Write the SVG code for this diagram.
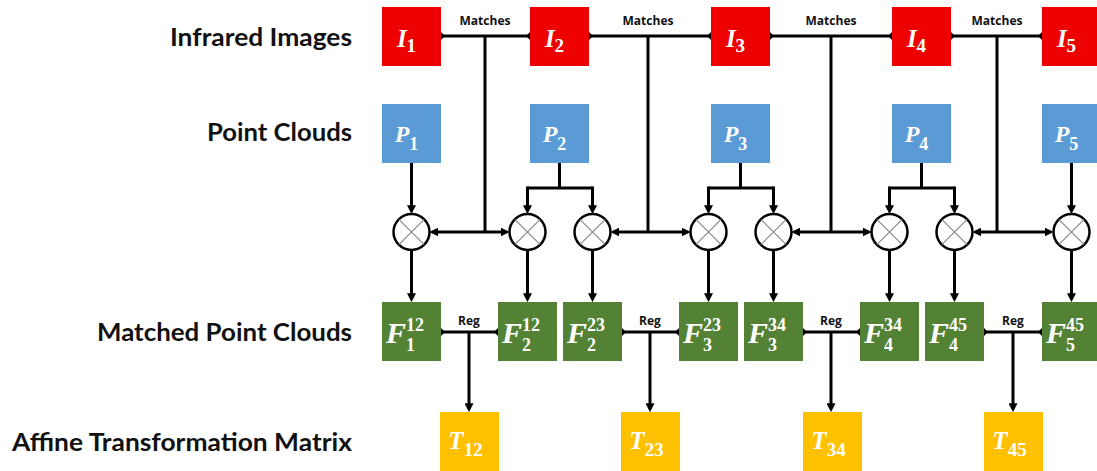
<svg xmlns="http://www.w3.org/2000/svg" width="1097" height="471" viewBox="0 0 1097 471">
<style>
.bg{fill:#ffffff}
.red{fill:#ee0000}
.blue{fill:#5b9bd5}
.green{fill:#548235}
.yel{fill:#ffc000}
.row{font-family:Lato,"Open Sans",sans-serif;font-weight:bold;font-size:24px;fill:#111;text-anchor:end}
.sm{font-family:"Open Sans","Liberation Sans",sans-serif;font-weight:bold;font-size:12px;fill:#111;text-anchor:middle}
.m{font-family:"Liberation Serif","DejaVu Serif",serif;font-weight:bold;font-style:italic;fill:#fff}
.d{font-family:"Liberation Serif","DejaVu Serif",serif;font-weight:bold;font-style:normal;fill:#fff}
.ln{fill:none;stroke:#000;stroke-width:3}
.circ{fill:#fff;stroke:#000;stroke-width:2.5}
.x{stroke:#8a8a8a;stroke-width:1.2}
</style>
<defs>
<marker id="arr" viewBox="0 0 10 10" refX="6.5" refY="5" markerWidth="9" markerHeight="9" markerUnits="userSpaceOnUse" orient="auto-start-reverse">
<path d="M0,0 L10,5 L0,10 z" fill="#000"/>
</marker>
<marker id="dia" viewBox="0 0 10 10" refX="5" refY="5" markerWidth="8" markerHeight="8" markerUnits="userSpaceOnUse" orient="auto">
<path d="M5,0 L10,5 L5,10 L0,5 z" fill="#000"/>
</marker>
</defs>
<rect class="bg" x="0" y="0" width="1097" height="471"/>

<g id="row-labels">
<text class="row" x="352" y="46" textLength="182" lengthAdjust="spacingAndGlyphs">Infrared Images</text>
<text class="row" x="352" y="141" textLength="145" lengthAdjust="spacingAndGlyphs">Point Clouds</text>
<text class="row" x="352" y="341" textLength="255" lengthAdjust="spacingAndGlyphs">Matched Point Clouds</text>
<text class="row" x="352" y="451" textLength="340" lengthAdjust="spacingAndGlyphs">Affine Transformation Matrix</text>
</g>

<g id="connectors">
<path class="ln" d="M441,36 H530" marker-start="url(#dia)" marker-end="url(#dia)"/>
<path class="ln" d="M589,36 H711" marker-start="url(#dia)" marker-end="url(#dia)"/>
<path class="ln" d="M770,36 H892" marker-start="url(#dia)" marker-end="url(#dia)"/>
<path class="ln" d="M951,36 H1042" marker-start="url(#dia)" marker-end="url(#dia)"/>
<path class="ln" d="M485,36 V232"/>
<path class="ln" d="M648,36 V232"/>
<path class="ln" d="M831,36 V232"/>
<path class="ln" d="M997,36 V232"/>
<path class="ln" d="M432.5,232 H506.5" marker-start="url(#arr)" marker-end="url(#arr)"/>
<path class="ln" d="M613.5,232 H687.5" marker-start="url(#arr)" marker-end="url(#arr)"/>
<path class="ln" d="M794.5,232 H868.5" marker-start="url(#arr)" marker-end="url(#arr)"/>
<path class="ln" d="M975.5,232 H1050.5" marker-start="url(#arr)" marker-end="url(#arr)"/>
<path class="ln" d="M411.5,163 V211" marker-end="url(#arr)"/>
<path class="ln" d="M559.5,163 V188 M527.5,188 H592.5"/>
<path class="ln" d="M527.5,186.5 V211" marker-end="url(#arr)"/>
<path class="ln" d="M592.5,186.5 V211" marker-end="url(#arr)"/>
<path class="ln" d="M740.5,163 V188 M708.5,188 H773.5"/>
<path class="ln" d="M708.5,186.5 V211" marker-end="url(#arr)"/>
<path class="ln" d="M773.5,186.5 V211" marker-end="url(#arr)"/>
<path class="ln" d="M921.5,163 V188 M889.5,188 H954.5"/>
<path class="ln" d="M889.5,186.5 V211" marker-end="url(#arr)"/>
<path class="ln" d="M954.5,186.5 V211" marker-end="url(#arr)"/>
<path class="ln" d="M1071.5,163 V211" marker-end="url(#arr)"/>
<path class="ln" d="M411.5,250 V299" marker-end="url(#arr)"/>
<path class="ln" d="M527.5,250 V299" marker-end="url(#arr)"/>
<path class="ln" d="M592.5,250 V299" marker-end="url(#arr)"/>
<path class="ln" d="M708.5,250 V299" marker-end="url(#arr)"/>
<path class="ln" d="M773.5,250 V299" marker-end="url(#arr)"/>
<path class="ln" d="M889.5,250 V299" marker-end="url(#arr)"/>
<path class="ln" d="M954.5,250 V299" marker-end="url(#arr)"/>
<path class="ln" d="M1071.5,250 V299" marker-end="url(#arr)"/>
<path class="ln" d="M441,332 H498" marker-start="url(#dia)" marker-end="url(#dia)"/>
<path class="ln" d="M622,332 H679" marker-start="url(#dia)" marker-end="url(#dia)"/>
<path class="ln" d="M803,332 H860" marker-start="url(#dia)" marker-end="url(#dia)"/>
<path class="ln" d="M984,332 H1042" marker-start="url(#dia)" marker-end="url(#dia)"/>
<path class="ln" d="M469,332 V409" marker-end="url(#arr)"/>
<path class="ln" d="M650,332 V409" marker-end="url(#arr)"/>
<path class="ln" d="M831,332 V409" marker-end="url(#arr)"/>
<path class="ln" d="M1013,332 V409" marker-end="url(#arr)"/>
<text class="sm" x="485" y="25">Matches</text>
<text class="sm" x="648" y="25">Matches</text>
<text class="sm" x="831" y="25">Matches</text>
<text class="sm" x="997" y="25">Matches</text>
<text class="sm" x="469" y="325">Reg</text>
<text class="sm" x="650" y="325">Reg</text>
<text class="sm" x="831" y="325">Reg</text>
<text class="sm" x="1013" y="325">Reg</text>
</g>

<g id="I1"><rect class="red" x="382" y="7" width="59" height="59"/><text class="m" x="406.5" y="47" font-size="25" text-anchor="middle">I<tspan class="d" font-size="19" dy="5">1</tspan></text></g>
<g id="I2"><rect class="red" x="530" y="7" width="59" height="59"/><text class="m" x="554.5" y="47" font-size="25" text-anchor="middle">I<tspan class="d" font-size="19" dy="5">2</tspan></text></g>
<g id="I3"><rect class="red" x="711" y="7" width="59" height="59"/><text class="m" x="735.5" y="47" font-size="25" text-anchor="middle">I<tspan class="d" font-size="19" dy="5">3</tspan></text></g>
<g id="I4"><rect class="red" x="892" y="7" width="59" height="59"/><text class="m" x="916.5" y="47" font-size="25" text-anchor="middle">I<tspan class="d" font-size="19" dy="5">4</tspan></text></g>
<g id="I5"><rect class="red" x="1042" y="7" width="59" height="59"/><text class="m" x="1066.5" y="47" font-size="25" text-anchor="middle">I<tspan class="d" font-size="19" dy="5">5</tspan></text></g>

<g id="P1"><rect class="blue" x="382" y="104" width="59" height="59"/><text class="m" x="406.5" y="142" font-size="24" text-anchor="middle">P<tspan class="d" font-size="18" dy="7.5">1</tspan></text></g>
<g id="P2"><rect class="blue" x="530" y="104" width="59" height="59"/><text class="m" x="554.5" y="142" font-size="24" text-anchor="middle">P<tspan class="d" font-size="18" dy="7.5">2</tspan></text></g>
<g id="P3"><rect class="blue" x="711" y="104" width="59" height="59"/><text class="m" x="735.5" y="142" font-size="24" text-anchor="middle">P<tspan class="d" font-size="18" dy="7.5">3</tspan></text></g>
<g id="P4"><rect class="blue" x="892" y="104" width="59" height="59"/><text class="m" x="916.5" y="142" font-size="24" text-anchor="middle">P<tspan class="d" font-size="18" dy="7.5">4</tspan></text></g>
<g id="P5"><rect class="blue" x="1042" y="104" width="59" height="59"/><text class="m" x="1066.5" y="142" font-size="24" text-anchor="middle">P<tspan class="d" font-size="18" dy="7.5">5</tspan></text></g>

<g id="X1"><circle class="circ" cx="411.5" cy="232" r="18"/><path class="x" d="M398.8,219.3 L424.2,244.7 M424.2,219.3 L398.8,244.7"/></g>
<g id="X2"><circle class="circ" cx="527.5" cy="232" r="18"/><path class="x" d="M514.8,219.3 L540.2,244.7 M540.2,219.3 L514.8,244.7"/></g>
<g id="X3"><circle class="circ" cx="592.5" cy="232" r="18"/><path class="x" d="M579.8,219.3 L605.2,244.7 M605.2,219.3 L579.8,244.7"/></g>
<g id="X4"><circle class="circ" cx="708.5" cy="232" r="18"/><path class="x" d="M695.8,219.3 L721.2,244.7 M721.2,219.3 L695.8,244.7"/></g>
<g id="X5"><circle class="circ" cx="773.5" cy="232" r="18"/><path class="x" d="M760.8,219.3 L786.2,244.7 M786.2,219.3 L760.8,244.7"/></g>
<g id="X6"><circle class="circ" cx="889.5" cy="232" r="18"/><path class="x" d="M876.8,219.3 L902.2,244.7 M902.2,219.3 L876.8,244.7"/></g>
<g id="X7"><circle class="circ" cx="954.5" cy="232" r="18"/><path class="x" d="M941.8,219.3 L967.2,244.7 M967.2,219.3 L941.8,244.7"/></g>
<g id="X8"><circle class="circ" cx="1071.5" cy="232" r="18"/><path class="x" d="M1058.8,219.3 L1084.2,244.7 M1084.2,219.3 L1058.8,244.7"/></g>

<g id="F1-12"><rect class="green" x="382" y="302" width="59" height="59"/><text class="m" x="386" y="343" font-size="30">F</text><text class="d" x="406" y="330.5" font-size="18">12</text><text class="d" x="406" y="351" font-size="18">1</text></g>
<g id="F2-12"><rect class="green" x="498" y="302" width="59" height="59"/><text class="m" x="502" y="343" font-size="30">F</text><text class="d" x="522" y="330.5" font-size="18">12</text><text class="d" x="522" y="351" font-size="18">2</text></g>
<g id="F2-23"><rect class="green" x="563" y="302" width="59" height="59"/><text class="m" x="567" y="343" font-size="30">F</text><text class="d" x="587" y="330.5" font-size="18">23</text><text class="d" x="587" y="351" font-size="18">2</text></g>
<g id="F3-23"><rect class="green" x="679" y="302" width="59" height="59"/><text class="m" x="683" y="343" font-size="30">F</text><text class="d" x="703" y="330.5" font-size="18">23</text><text class="d" x="703" y="351" font-size="18">3</text></g>
<g id="F3-34"><rect class="green" x="744" y="302" width="59" height="59"/><text class="m" x="748" y="343" font-size="30">F</text><text class="d" x="768" y="330.5" font-size="18">34</text><text class="d" x="768" y="351" font-size="18">3</text></g>
<g id="F4-34"><rect class="green" x="860" y="302" width="59" height="59"/><text class="m" x="864" y="343" font-size="30">F</text><text class="d" x="884" y="330.5" font-size="18">34</text><text class="d" x="884" y="351" font-size="18">4</text></g>
<g id="F4-45"><rect class="green" x="925" y="302" width="59" height="59"/><text class="m" x="929" y="343" font-size="30">F</text><text class="d" x="949" y="330.5" font-size="18">45</text><text class="d" x="949" y="351" font-size="18">4</text></g>
<g id="F5-45"><rect class="green" x="1042" y="302" width="59" height="59"/><text class="m" x="1046" y="343" font-size="30">F</text><text class="d" x="1066" y="330.5" font-size="18">45</text><text class="d" x="1066" y="351" font-size="18">5</text></g>

<g id="T12"><rect class="yel" x="440" y="412" width="59" height="59"/><text class="m" x="465.5" y="449" font-size="25" text-anchor="middle">T<tspan class="d" font-size="19" dy="6.5">12</tspan></text></g>
<g id="T23"><rect class="yel" x="621" y="412" width="59" height="59"/><text class="m" x="646.5" y="449" font-size="25" text-anchor="middle">T<tspan class="d" font-size="19" dy="6.5">23</tspan></text></g>
<g id="T34"><rect class="yel" x="803" y="412" width="59" height="59"/><text class="m" x="828.5" y="449" font-size="25" text-anchor="middle">T<tspan class="d" font-size="19" dy="6.5">34</tspan></text></g>
<g id="T45"><rect class="yel" x="984" y="412" width="59" height="59"/><text class="m" x="1009.5" y="449" font-size="25" text-anchor="middle">T<tspan class="d" font-size="19" dy="6.5">45</tspan></text></g>
</svg>
